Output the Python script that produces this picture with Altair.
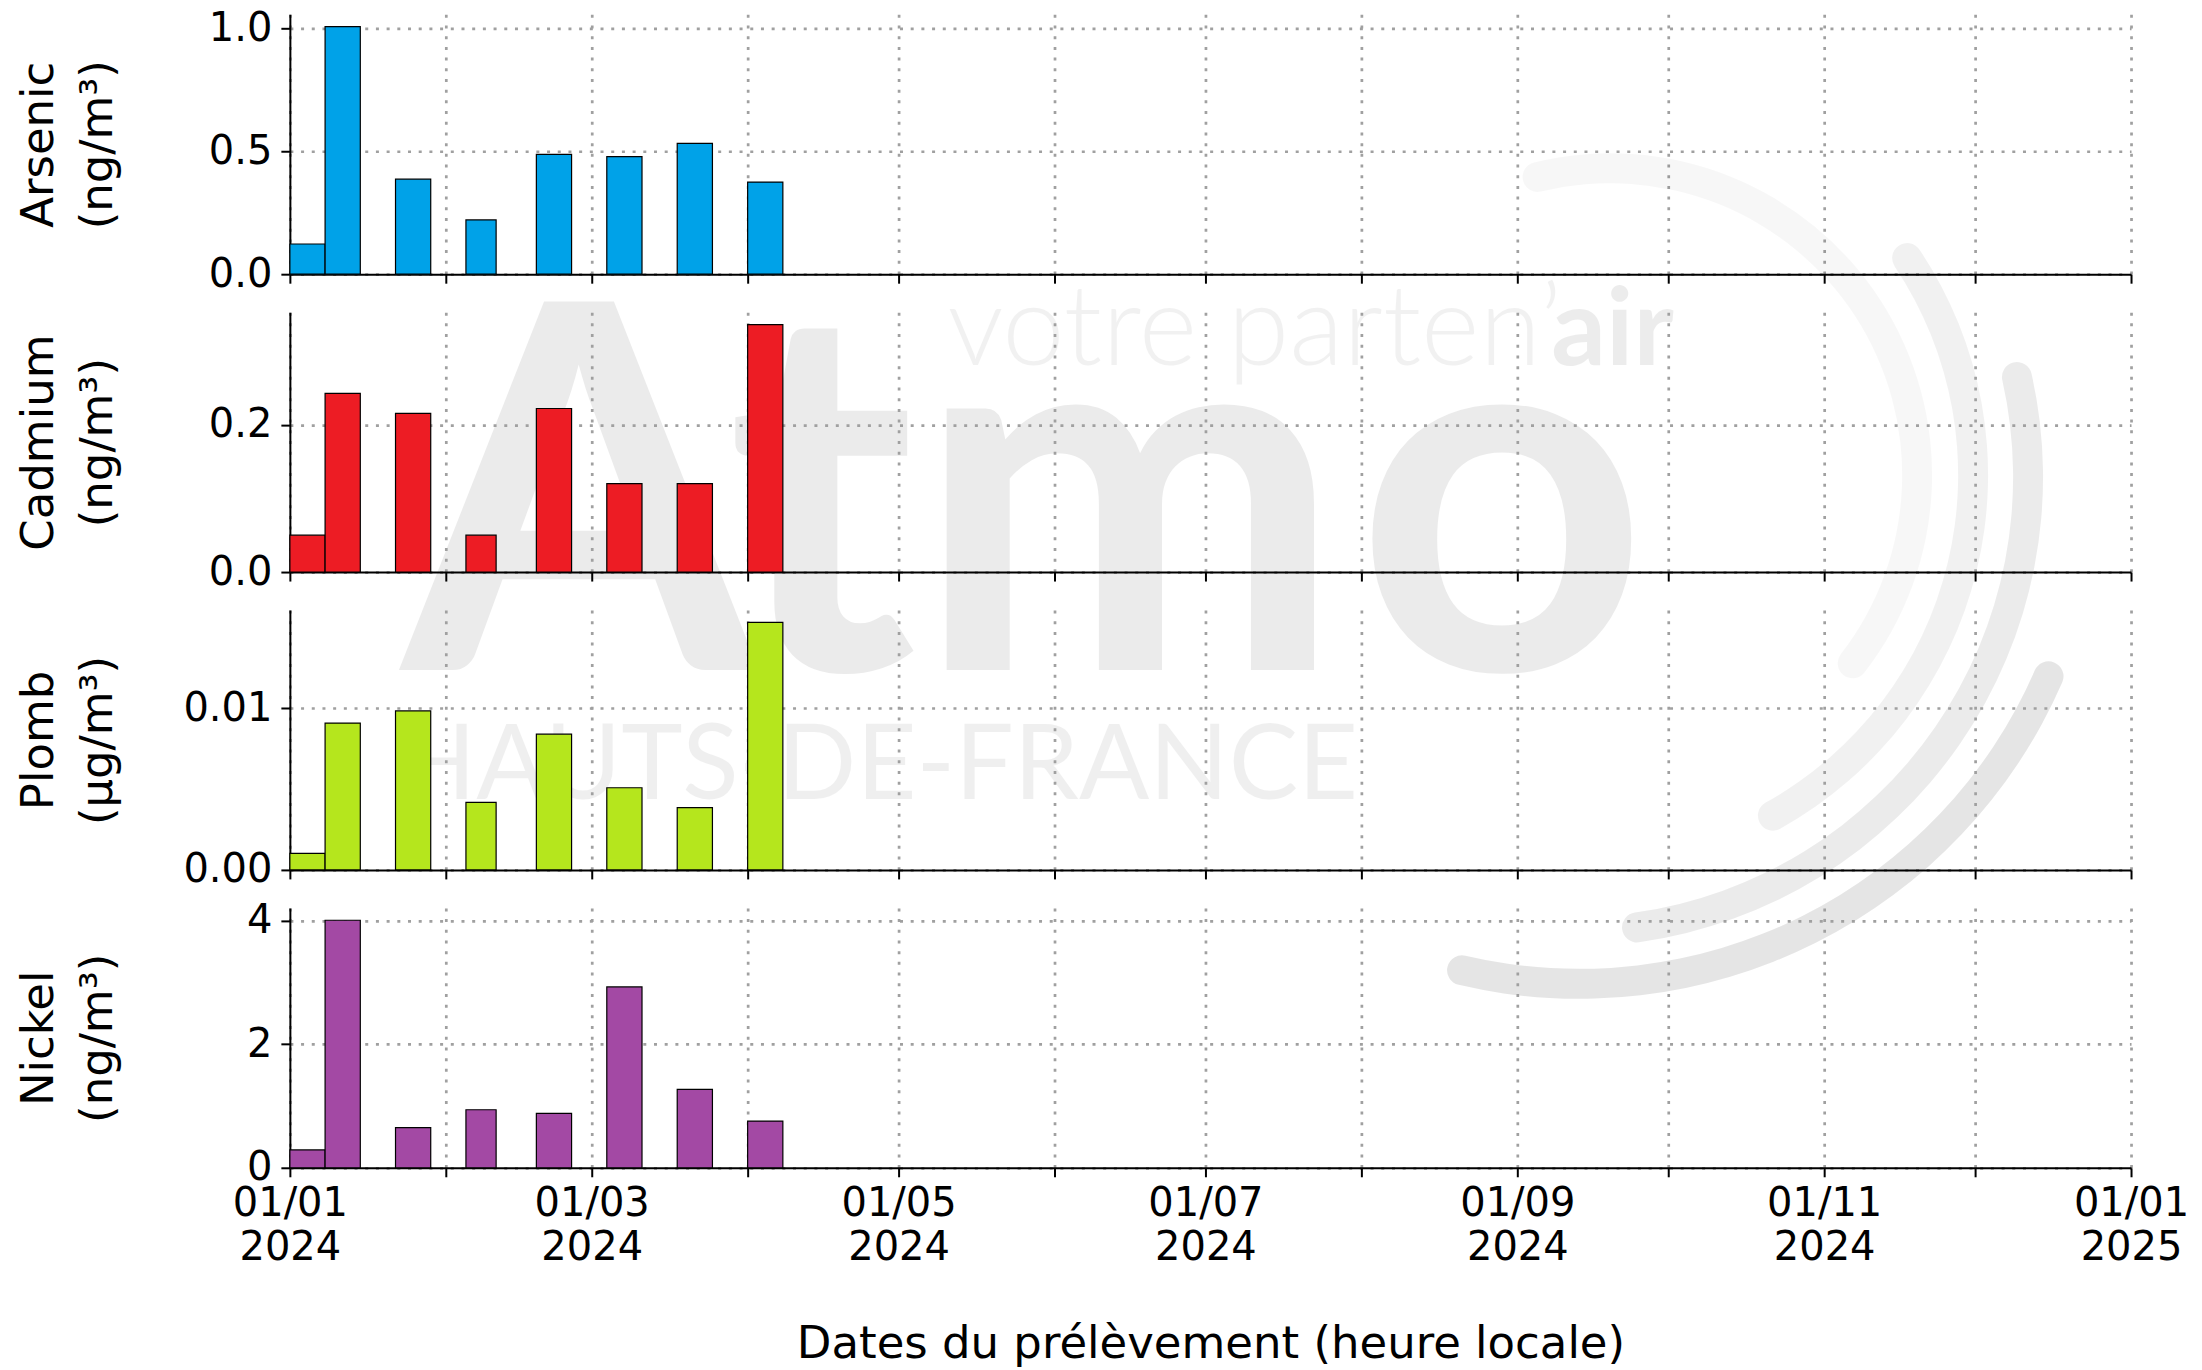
import altair as alt
import pandas as pd

# ---- data ----
starts = ["2024-01-01", "2024-01-08", "2024-01-22", "2024-02-05",
          "2024-02-19", "2024-03-04", "2024-03-18", "2024-04-01"]
ends = ["2024-01-08", "2024-01-15", "2024-01-29", "2024-02-11",
        "2024-02-26", "2024-03-11", "2024-03-25", "2024-04-08"]
arsenic = [0.123, 1.008, 0.387, 0.221, 0.488, 0.479, 0.533, 0.375]
cadmium = [0.050, 0.2425, 0.2155, 0.050, 0.222, 0.120, 0.120, 0.336]
plomb = [0.00102, 0.00908, 0.00983, 0.00418, 0.00839, 0.00508, 0.00385, 0.0153]
nickel = [0.29, 4.01, 0.65, 0.94, 0.88, 2.93, 1.27, 0.757]

pollutants = ["Arsenic", "Cadmium", "Plomb", "Nickel"]
units = ["(ng/m³)", "(ng/m³)", "(µg/m³)", "(ng/m³)"]
colors = ["#00A2E8", "#ED1C24", "#B5E61D", "#A349A4"]
y_ticks = [[0.0, 0.5, 1.0], [0.0, 0.2], [0.0, 0.01], [0, 2, 4]]
y_formats = [".1f", ".1f", ".2f", ".0f"]
series = [arsenic, cadmium, plomb, nickel]

x_title = "Dates du prélèvement (heure locale)"
x_start = "2024-01-01"
x_end = "2025-01-01"

def ms(s):
    return int(pd.Timestamp(s, tz="UTC").value // 10**6)

month_ticks = [ms(d) for d in pd.date_range(x_start, x_end, freq="MS")]
x_domain = [ms(x_start), ms(x_end)]

W = 1842
H = 260

label_expr = ("utcmonth(datum.value) % 2 == 0 ? "
              "[utcFormat(datum.value, '%d/%m'), utcFormat(datum.value, '%Y')] : ''")


def panel(i):
    df = pd.DataFrame({"start": starts, "end": ends, "value": series[i]})
    vmax = max(series[i]) * 1.05
    last = i == len(pollutants) - 1
    xaxis = alt.Axis(
        values=month_ticks,
        labels=last,
        labelExpr=label_expr,
        labelFlush=False,
        labelOverlap=False,
        labelBound=False,
        labelLineHeight=44,
        labelPadding=7,
        title=x_title if last else None,
        titlePadding=54,
    )
    yaxis = alt.Axis(
        values=y_ticks[i],
        format=y_formats[i],
        title=[pollutants[i], units[i]],
        titleAngle=270,
        titleAlign="center",
        titleBaseline="alphabetic",
        titleX=-237,
        titleY=H / 2,
        titleLineHeight=59,
        labelPadding=9,
    )
    bars = alt.Chart(df).mark_bar(
        color=colors[i], stroke="black", strokeWidth=1.2
    ).encode(
        x=alt.X("start:T", scale=alt.Scale(type="utc", domain=x_domain, nice=False), axis=xaxis),
        x2="end:T",
        y=alt.Y("value:Q", scale=alt.Scale(domain=[0, vmax], nice=False, zero=True), axis=yaxis),
        y2=alt.datum(0),
    )
    return bars


# ---- faint "Atmo" watermark (decoration, drawn behind the panels) ----
one = alt.Data(values=[{}])


def wm_text(text, x, y, size, weight, alpha):
    return alt.Chart(one).mark_text(
        text=text, font="Lato", fontSize=size, fontWeight=weight,
        align="left", baseline="alphabetic", fill="black", opacity=alpha
    ).encode(x=alt.value(x), y=alt.value(y))


def wm_arc(cx, cy, r, a0, a1, alpha):
    return alt.Chart(one).mark_arc(
        radius=r + 15, radius2=r - 15, theta=a0, theta2=a1,
        cornerRadius=15, fill="black", opacity=alpha
    ).encode(x=alt.value(cx), y=alt.value(cy))


watermark = [
    wm_text("A", 112, 656, 510, "bold", 0.075),
    wm_text("t", 437, 656, 510, "bold", 0.075),
    wm_text("m", 626, 656, 510, "bold", 0.075),
    wm_text("o", 1066, 656, 510, "bold", 0.075),
    wm_text("votre parten\u2019", 658, 351, 112, 300, 0.05),
    wm_text("air", 1262, 351, 108, "bold", 0.07),
    wm_text("HAUTS-DE-FRANCE", 107, 785, 104, "normal", 0.06),
    wm_arc(1321, 461, 307, 5.995, 8.563, 0.03),
    wm_arc(1294, 461, 390, 0.942, 2.672, 0.055),
    wm_arc(1284, 463, 455, 1.316, 3.034, 0.08),
    wm_arc(1290, 458, 512, 1.952, 3.402, 0.10),
]

panels = [panel(i) for i in range(4)]
top = alt.layer(*watermark, panels[0]).properties(width=W, height=H)
rest = [p.properties(width=W, height=H) for p in panels[1:]]

chart = alt.vconcat(top, *rest, spacing=38, bounds="flush").properties(
    padding={"left": 9, "top": 0, "right": 5, "bottom": 0},
    background="white",
).configure_view(stroke=None).configure_axis(
    labelFont="DejaVu Sans", titleFont="DejaVu Sans",
    labelFontSize=40, titleFontSize=45, titleFontWeight="normal",
    labelColor="black", titleColor="black",
    tickColor="black", tickSize=9, tickWidth=2,
    domainColor="black", domainWidth=2,
    grid=True, gridColor="#a0a0a0", gridDash=[3, 7.7], gridWidth=2.7,
)

chart.save("out.html", embed_options={"renderer": "svg", "actions": False})
